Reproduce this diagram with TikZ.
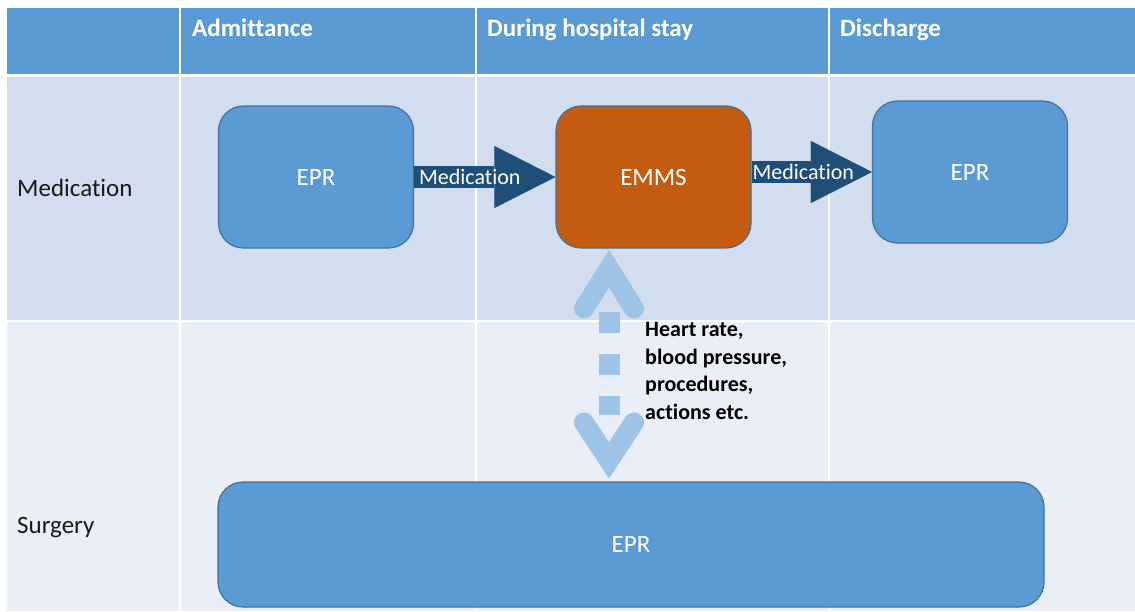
\documentclass[tikz,border=0pt]{standalone}
\usepackage{fontspec}
\setmainfont{Carlito}[Ligatures=NoCommon]
\usetikzlibrary{arrows.meta,calc}

\definecolor{headblue}{HTML}{5B9BD5}
\definecolor{rowone}{HTML}{D2DEEF}
\definecolor{rowtwo}{HTML}{EAEFF7}
\definecolor{boxline}{HTML}{41719C}
\definecolor{emmsorange}{HTML}{C55A11}
\definecolor{flowblue}{HTML}{1F4E79}
\definecolor{linkblue}{HTML}{9DC3E6}

\begin{document}
\begin{tikzpicture}[x=1pt, y=-1pt,
    headtext/.style={anchor=base west, inner sep=0pt, text=white,
        font=\fontsize{25}{30}\selectfont\bfseries},
    rowtext/.style={anchor=base west, inner sep=0pt, text=black!90,
        font=\fontsize{25}{30}\selectfont},
    sysbox/.style={draw=boxline, line width=1.2pt, rounded corners=25pt,
        fill=headblue, text=white, font=\fontsize{25}{30}\selectfont,
        minimum width=195pt, minimum height=142pt},
    medflow/.style={flowblue, line width=22pt,
        -{Triangle[length=61pt, width=62pt, line width=0.01pt]}},
    flowtext/.style={pos=0, anchor=west, inner sep=0pt, text=white,
        font=\fontsize{22}{26}\selectfont},
    chevron/.style={linkblue, line width=20pt, line cap=round, line join=miter}]

    \useasboundingbox (0,0) rectangle (1135,611);

    % TABLE BACKGROUND
    \fill[headblue] (7,8) rectangle (1135,74);
    \fill[rowone] (7,77) rectangle (1135,320);
    \fill[rowtwo] (7,322) rectangle (1135,611);
    \foreach \x in {180,476,829}
        \draw[white, line width=2.5pt] (\x,8) -- (\x,611);

    % HEADER
    \node[headtext] (hadmit) at (192,36) {Admittance};
    \node[headtext] (hstay) at (487,36) {During hospital stay};
    \node[headtext] (hdisch) at (840,36) {Discharge};

    % ROW LABELS
    \node[rowtext] (lmed) at (17,196) {Medication};
    \node[rowtext] (lsurg) at (17,533) {Surgery};

    % SYSTEMS
    \node[sysbox] (eprin) at (316,177) {EPR};
    \node[sysbox, fill=emmsorange] (emms) at (653.5,177) {EMMS};
    \node[sysbox] (eprout) at (970,172) {EPR};
    \node[sysbox, minimum width=826pt, minimum height=125pt] (surg) at (631,544.5) {EPR};

    % MEDICATION FLOW
    \draw[medflow] (eprin.east) -- (emms.west)
        node[flowtext, xshift=-6pt] (fin) {Medication};
    \draw[medflow] (emms.east |- eprout.west) -- (eprout.west)
        node[flowtext, xshift=-10pt] (fout) {Medication};

    % DATA LINK EMMS <-> SURGERY
    \path (emms.south) ++(-44.5,0) coordinate (linka);
    \path (linka |- surg.north) coordinate (linkb);
    \draw[linkblue, line width=21pt, dash pattern=on 21pt off 21pt,
        shorten <=63pt, shorten >=66pt] (linka) -- (linkb);
    \draw[chevron] ($(linka)+(-25,60)$) -- ($(linka)+(0,20)$) -- ($(linka)+(25,60)$);
    \draw[chevron] ($(linkb)+(-25,-59)$) -- ($(linkb)+(0,-21)$) -- ($(linkb)+(25,-59)$);
    \node[anchor=north west, inner sep=0pt, align=left,
        font=\fontsize{22}{27.7}\selectfont\bfseries] (linktext) at (645,322)
        {Heart rate,\\blood pressure,\\procedures,\\actions etc.};

\end{tikzpicture}
\end{document}
